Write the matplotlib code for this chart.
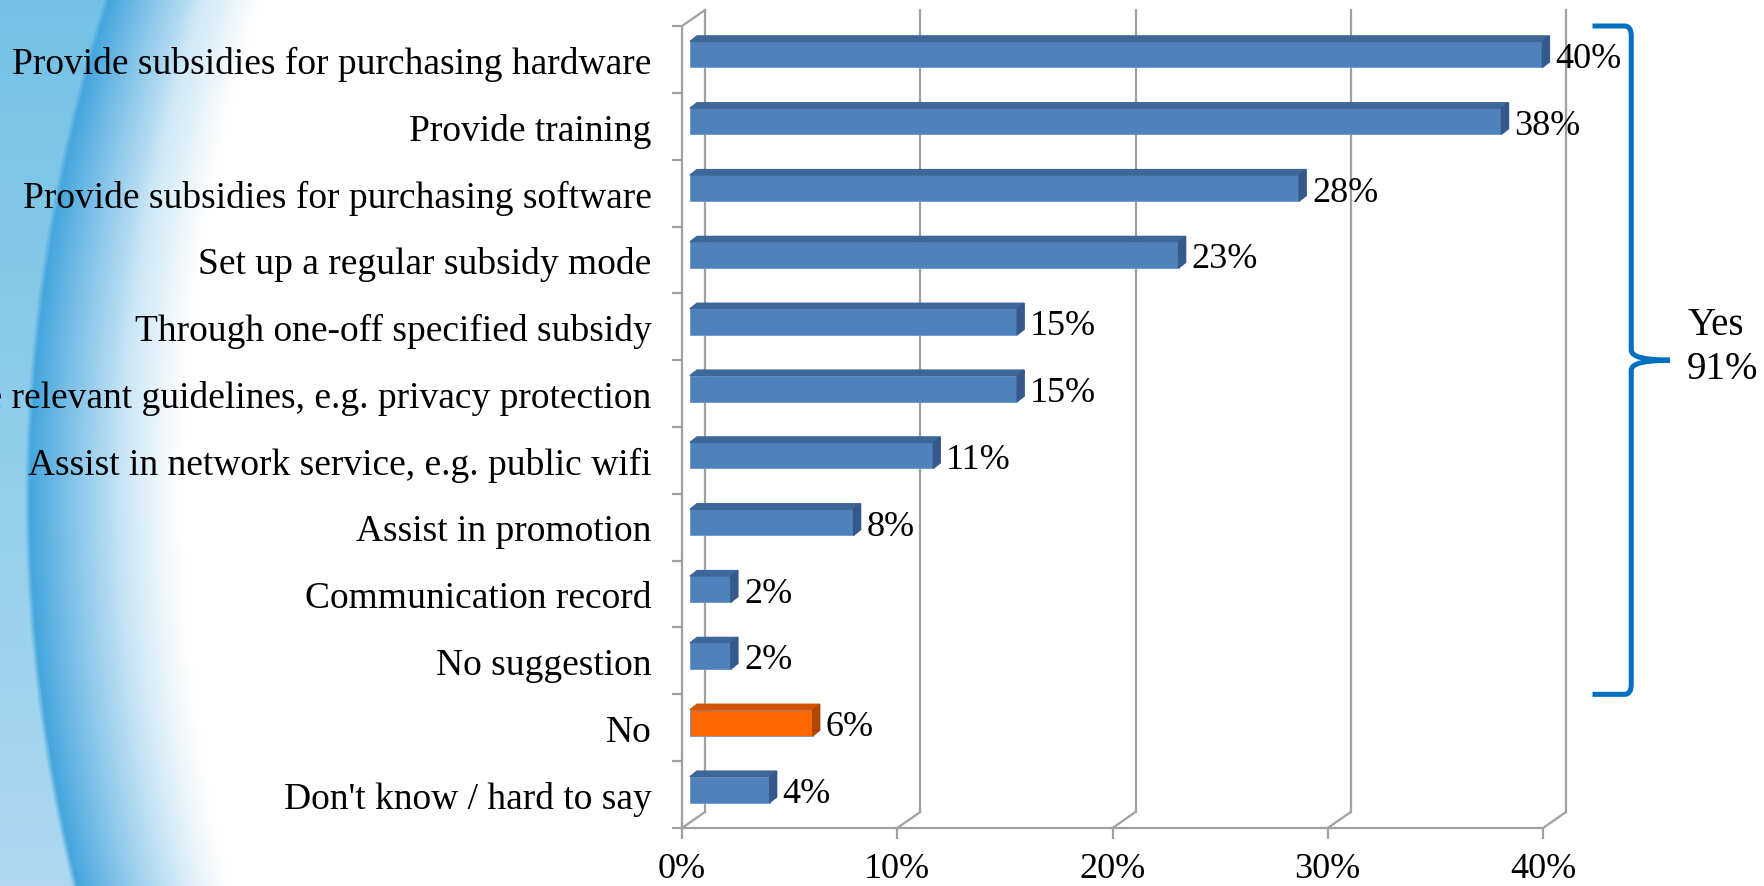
import numpy as np
import matplotlib
matplotlib.use("Agg")
import matplotlib.pyplot as plt
from matplotlib.patches import Polygon, PathPatch
from matplotlib.path import Path

plt.rcParams['font.family'] = ['Liberation Serif', 'DejaVu Serif']

# data, top row first
categories = [
    "Provide subsidies for purchasing hardware",
    "Provide training",
    "Provide subsidies for purchasing software",
    "Set up a regular subsidy mode",
    "Through one-off specified subsidy",
    "Formulate relevant guidelines, e.g. privacy protection",
    "Assist in network service, e.g. public wifi",
    "Assist in promotion",
    "Communication record",
    "No suggestion",
    "No",
    "Don't know / hard to say",
]
values = [39.6, 37.7, 28.3, 22.7, 15.2, 15.2, 11.3, 7.6, 1.9, 1.9, 5.7, 3.7]
value_labels = ["40%", "38%", "28%", "23%", "15%", "15%", "11%", "8%", "2%", "2%", "6%", "4%"]
is_no = [False] * 10 + [True, False]
x_ticks = [0, 10, 20, 30, 40]
x_tick_labels = ["0%", "10%", "20%", "30%", "40%"]
yes_rows = 10
yes_label = "Yes\n91%"

W, H = 1765, 887
fig = plt.figure(figsize=(W / 100, H / 100), dpi=100)

# left side blue swoosh background (decoration only)
bw = 500
yy, xx = np.mgrid[0:H, 0:bw].astype(float)
t = yy / H
edge = 30 + 3.16e-4 * (yy - 500) ** 2
pale = (1 - t)[..., None] * np.array([0.45, 0.76, 0.90]) + t[..., None] * np.array([0.68, 0.85, 0.94])
deep = np.array([0.27, 0.65, 0.87])
a = np.clip(1 - (xx - edge) / 155, 0, 1) ** 1.3
img = (1 - a)[..., None] * np.ones(3) + a[..., None] * deep
left = xx < edge
soft = np.clip((edge - xx) / 6, 0, 1)[..., None]
img = np.where(left[..., None], soft * pale + (1 - soft) * deep, img)
streak = 0.18 * np.exp(-((xx - edge - 95) / 12) ** 2) * (1 - t)
img = img + (1 - img) * streak[..., None]
bg = fig.add_axes([0, 0, 1, 1], zorder=-10)
bg.imshow(img, extent=(0, bw, H, 0), aspect='auto', interpolation='bilinear')
bg.set_xlim(0, W)
bg.set_ylim(H, 0)
bg.axis('off')

# front plane of the chart box
x0, x1, ytop, yfloor = 682, 1543, 27, 829
ax = fig.add_axes([x0 / W, (H - yfloor) / H, (x1 - x0) / W, (yfloor - ytop) / H])
ax.patch.set_alpha(0)
n = len(categories)
ax.set_xlim(0, 40)
ax.set_ylim(n, 0)

pxx = (x1 - x0) / 40.0
pxy = (yfloor - ytop) / n
grid_c = '#a0a0a0'

# back wall offsets
bdx, bdy = 23 / pxx, 16 / pxy
for g in x_ticks:
    ax.plot([g + bdx, g + bdx], [n - bdy, -bdy], color=grid_c, lw=1.6, clip_on=False, zorder=1)
    ax.plot([g, g + bdx], [n, n - bdy], color=grid_c, lw=1.6, clip_on=False, zorder=1)
ax.plot([0, bdx], [0, -bdy], color=grid_c, lw=1.6, clip_on=False, zorder=1)

for sp in ['top', 'right']:
    ax.spines[sp].set_visible(False)
for sp in ['left', 'bottom']:
    ax.spines[sp].set_color(grid_c)
    ax.spines[sp].set_linewidth(1.6)

# 3d bars
fx, fy = 8 / pxx, 5 / pxy
ddx, ddy = 7 / pxx, 5.5 / pxy
bh = 26 / pxy
yc = np.arange(n) + 0.5 - fy
front = ['#FF6600' if no else '#4F81BD' for no in is_no]
top_c = ['#D25400' if no else '#3D6699' for no in is_no]
side_c = ['#B04600' if no else '#34598A' for no in is_no]
ax.barh(yc, values, left=fx, height=bh, color=front, edgecolor='#6b95cc', linewidth=0.6, zorder=3)
for i, v in enumerate(values):
    yt = yc[i] - bh / 2
    yb = yc[i] + bh / 2
    xl, xr = fx, fx + v
    ax.add_patch(Polygon([(xl, yt), (xr, yt), (xr + ddx, yt - ddy), (xl + ddx, yt - ddy)],
                         closed=True, color=top_c[i], zorder=3, clip_on=False))
    ax.add_patch(Polygon([(xr, yt), (xr + ddx, yt - ddy), (xr + ddx, yb - ddy), (xr, yb)],
                         closed=True, color=side_c[i], zorder=3, clip_on=False))
    ax.text(xr + ddx + 6 / pxx, yc[i] + 4 / pxy, value_labels[i], fontsize=26, va='center', ha='left',
            zorder=4, clip_on=False)

ax.set_yticks(np.arange(n) + 0.5, categories)
ax.set_yticks(np.arange(n + 1), minor=True)
ax.tick_params(axis='y', which='major', length=0, pad=22, labelsize=27)
ax.tick_params(axis='y', which='minor', length=7.2, width=1.6, color=grid_c)
ax.set_xticks(x_ticks, x_tick_labels)
ax.tick_params(axis='x', which='major', length=8, width=1.6, color=grid_c, pad=9, labelsize=26)

# brace for the "yes" answers
xa, xv, xt = 42.3, 44.1, 45.9
ym = yes_rows / 2
r = 0.15
verts = [(xa, 0), (xv - 0.3, 0), (xv, 0), (xv, r), (xv, ym - r), (xv, ym), (xt, ym),
         (xt, ym), (xv, ym), (xv, ym + r), (xv, yes_rows - r), (xv, yes_rows), (xv - 0.3, yes_rows),
         (xa, yes_rows)]
codes = [Path.MOVETO, Path.LINETO, Path.CURVE3, Path.CURVE3, Path.LINETO, Path.CURVE3, Path.CURVE3,
         Path.MOVETO, Path.CURVE3, Path.CURVE3, Path.LINETO, Path.CURVE3, Path.CURVE3, Path.LINETO]
ax.add_patch(PathPatch(Path(verts, codes), facecolor='none', edgecolor='#0070C0', lw=3.6,
                       clip_on=False, capstyle='butt', joinstyle='round'))
ax.text(46.7, 4.8, yes_label, fontsize=28, ha='left', va='center', linespacing=1.25, clip_on=False)

fig.savefig('out.png', dpi=100)
